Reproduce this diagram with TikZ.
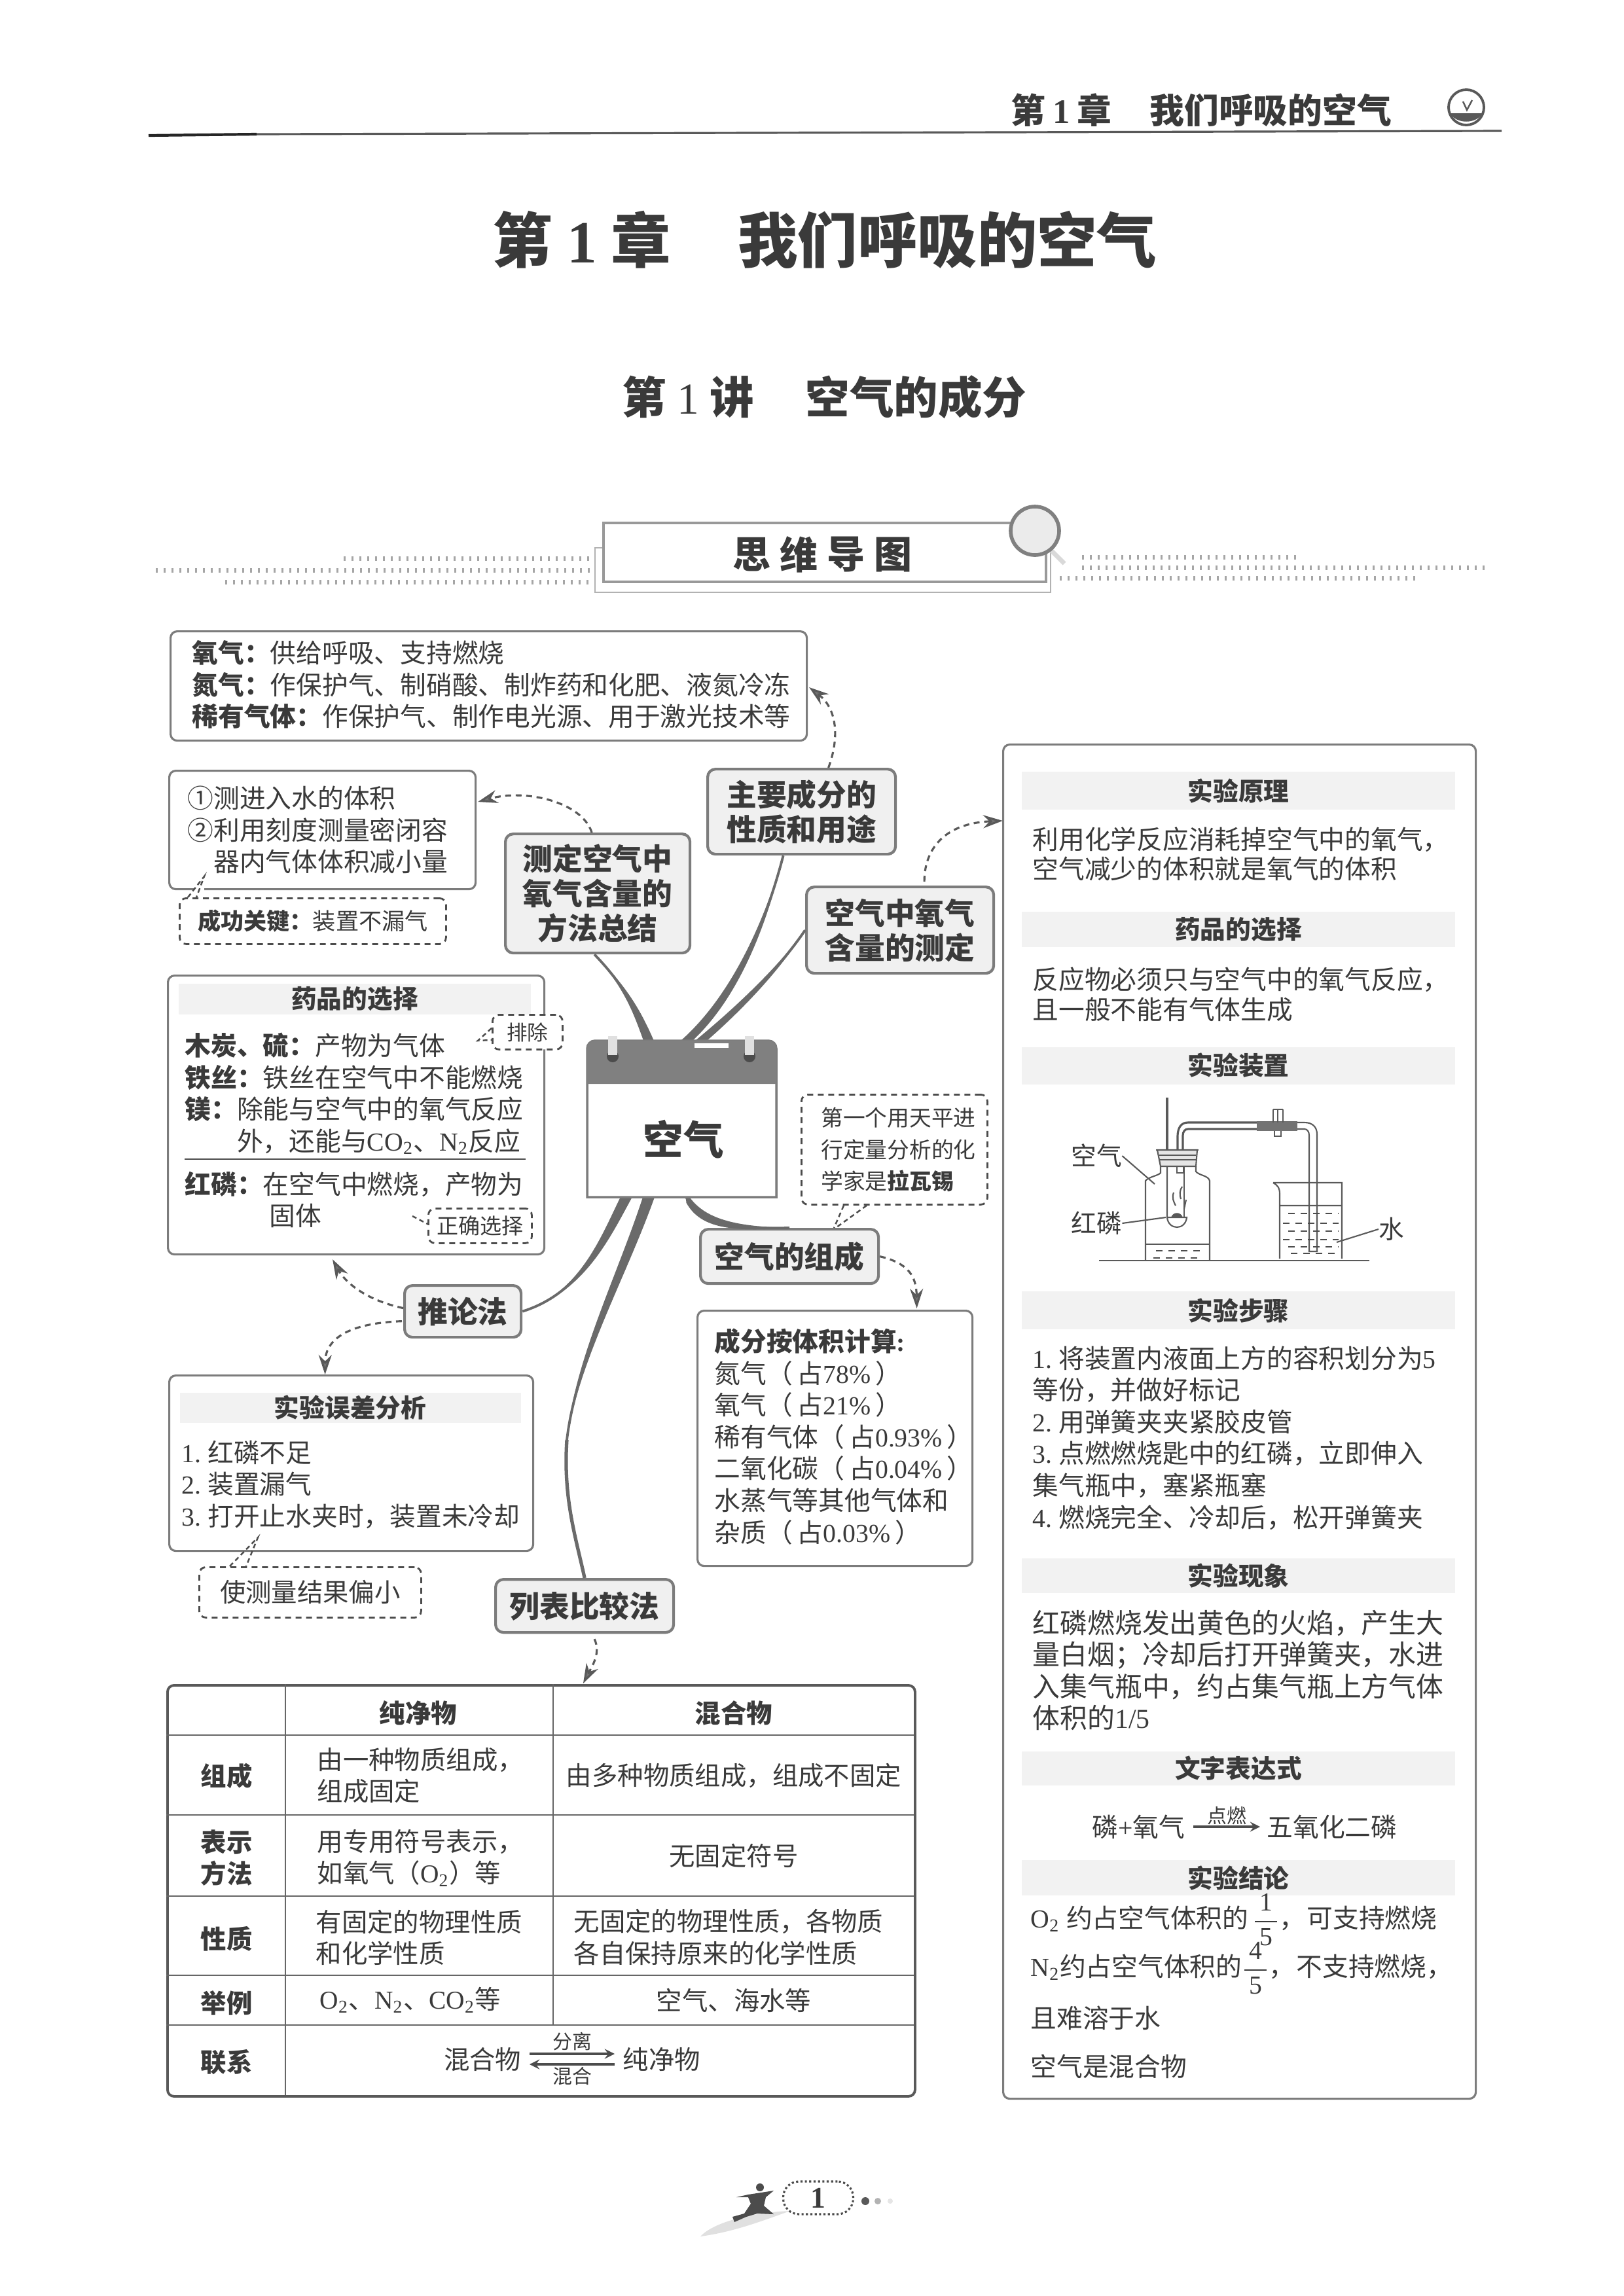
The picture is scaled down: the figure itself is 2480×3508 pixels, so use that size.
\documentclass[tikz,border=0pt]{standalone}
\usepackage{fontspec}
\usetikzlibrary{calc,arrows.meta}
\setmainfont{Noto Sans CJK SC}
\newfontfamily\latinfont{Liberation Serif}
\definecolor{inkgray}{HTML}{3A3A3A}
\definecolor{boxgray}{HTML}{7C7C7C}
\definecolor{branchgray}{HTML}{6A6A6A}
\definecolor{shadegray}{HTML}{F2F2F2}
\definecolor{topicfill}{HTML}{F0F0F0}
\newcommand{\lat}[1]{{\latinfont #1}}
\newcommand{\chem}[2]{{\latinfont #1\textsubscript{#2}}}
\newcommand{\fifths}[1]{$\displaystyle\frac{\mbox{\lat{\,#1\,}}}{\mbox{\lat{\,5\,}}}$}
\newcommand{\branch}[6]{%
  \draw[branchline] (#1) .. controls (#2) and (#3) .. (#4);
  \fill[branchgray] ($(#1)-(#5,#6)$) .. controls ($(#2)-0.8*(#5,#6)$) and ($(#3)-0.4*(#5,#6)$) .. (#4)
    .. controls ($(#3)+0.4*(#5,#6)$) and ($(#2)+0.8*(#5,#6)$) .. ($(#1)+(#5,#6)$) -- cycle;
}
\tikzset{
  bodytext/.style={font=\fontsize{11.3}{13.8}\selectfont,text=inkgray,align=left,inner sep=0pt,anchor=west},
  celltext/.style={font=\fontsize{11.2}{13.7}\selectfont,text=inkgray,align=center,inner sep=0pt},
  rowlabel/.style={font=\bfseries\fontsize{11.2}{13.7}\selectfont,text=inkgray,align=center,inner sep=0pt},
  sheetbox/.style 2 args={draw=boxgray,line width=0.9pt,rounded corners=0.1cm,fill=white,anchor=north west,inner sep=0pt,minimum width=#1*0.01cm,minimum height=#2*0.01cm},
  notebox/.style 2 args={draw=black!70,line width=0.8pt,dash pattern=on 0.09cm off 0.07cm,rounded corners=0.1cm,fill=white,anchor=north west,inner sep=0pt,text=inkgray,align=left,minimum width=#1*0.01cm,minimum height=#2*0.01cm},
  topicbox/.style 2 args={draw=boxgray,line width=1.2pt,rounded corners=0.12cm,fill=topicfill,anchor=north west,inner sep=0pt,align=center,text=inkgray,font=\bfseries\fontsize{13}{15}\selectfont,minimum width=#1*0.01cm,minimum height=#2*0.01cm},
  headshade/.style={fill=shadegray,inner sep=0pt,text=inkgray,font=\bfseries\fontsize{11}{13}\selectfont},
  dasharrow/.style={draw=black!65,line width=0.9pt,dash pattern=on 0.09cm off 0.07cm,-{Stealth[length=0.3cm,width=0.2cm,fill=black!55]}},
  notedash/.style={draw=black!70,line width=0.7pt,dash pattern=on 0.07cm off 0.05cm},
  branchline/.style={draw=branchgray,line width=1.1pt},
  glassline/.style={draw=black!65,line width=0.6pt},
  waterdash/.style={draw=black!70,line width=0.8pt,dash pattern=on 0.1cm off 0.09cm},
  tableline/.style={draw=black!60,line width=0.8pt},
}
\begin{document}
\begin{tikzpicture}[x=0.01cm,y=-0.01cm]
  \useasboundingbox (0,0) rectangle (2480,3508);
  % running head
  \node[font=\bfseries\fontsize{15}{16}\selectfont,text=inkgray,inner sep=0pt,anchor=west] (runhead) at (1544,168)
    {第\hspace{0.11cm}\lat{1}\hspace{0.11cm}章\hspace{0.58cm}我们呼吸的空气};
  \draw[black!65,line width=0.9pt] (392,205) -- (2294,200);
  \draw[black!85,line width=1.2pt] (227,207) -- (392,205);
  \draw[black!65,line width=1.1pt,fill=white] (2240,164) circle (0.27cm);
  \fill[black!65] (2215,173) .. controls (2225,190) and (2255,190) .. (2265,173) -- cycle;
  \draw[black!65,line width=0.7pt] (2235,155) -- (2241,168) -- (2249,153);
  % titles
  \node[font=\bfseries\fontsize{26}{28}\selectfont,text=inkgray,inner sep=0pt,anchor=west] (chaptitle) at (752,366)
    {第\hspace{0.22cm}\lat{1}\hspace{0.22cm}章\hspace{1.02cm}我们呼吸的空气};
  \node[font=\fontsize{19.2}{22}\selectfont\bfseries,text=inkgray,inner sep=0pt,anchor=west] (lessontitle) at (950,607)
    {第\hspace{0.16cm}\lat{\mdseries 1}\hspace{0.16cm}讲\hspace{0.79cm}空气的成分};
  % banner
  \foreach \dy/\dxa/\dxb in {853/525/903,871/238/903,889/344/903,851/1653/1989,867/1653/2277,883/1619/2170}
    \draw[black!35,line width=0.07cm,dash pattern=on 0.03cm off 0.09cm] (\dxa,\dy) -- (\dxb,\dy);
  \draw[black!30,line width=0.8pt,fill=white] (909,837) rectangle (1605,905);
  \draw[black!40,line width=1pt,fill=white] (922,799) rectangle (1598,889);
  \foreach \ch [count=\n] in {思,维,导,图}
    \node[font=\bfseries\fontsize{16.5}{18}\selectfont,text=inkgray,inner sep=0pt] (mind\n) at ({1148+72*(\n-1)},847) {\ch};
  \draw[black!15,line width=2pt] (1600,835) -- (1626,861);
  \draw[black!50,line width=1.6pt,fill=black!8] (1581,811) circle (0.37cm);
  % left column
  \node[sheetbox={972}{167}] (usebox) at (259,963) {};
  \node[bodytext] (usetext) at (293,1046) {\textbf{氧气：}供给呼吸、支持燃烧\\\textbf{氮气：}作保护气、制硝酸、制炸药和化肥、液氮冷冻\\\textbf{稀有气体：}作保护气、制作电光源、用于激光技术等};
  \node[sheetbox={468}{181}] (methbox) at (257,1176) {};
  \node[bodytext] (methtext) at (286,1268) {①测进入水的体积\\②利用刻度测量密闭容\\\hspace{1em}器内气体体积减小量};
  \node[notebox={407}{70},font=\fontsize{10}{12}\selectfont] (keynote) at (273,1371) {\textbf{成功关键：}装置不漏气};
  \draw[white,line width=2pt] (296,1357) -- (312,1357);
  \coordinate (keytip) at (312,1339);
  \draw[notedash] ($(keynote.north west)+(14,0)$) -- (keytip) -- ($(keynote.north west)+(27,0)$);
  \node[sheetbox={575}{426}] (drugbox) at (255,1489) {};
  \node[headshade,minimum width=538*0.01cm,minimum height=47*0.01cm] (drughead) at (542,1526) {药品的选择};
  \node[bodytext] (drugtexta) at (282,1671) {\textbf{木炭、硫：}产物为气体\\\textbf{铁丝：}铁丝在空气中不能燃烧\\\textbf{镁：}除能与空气中的氧气反应\\\hspace{2em}外，还能与\chem{CO}{2}、\chem{N}{2}反应};
  \draw[black!70,line width=0.7pt] (282,1771) -- (803,1771);
  \node[bodytext] (drugtextb) at (282,1833) {\textbf{红磷：}在空气中燃烧，产物为\\\hspace{3.25em}固体};
  \node[notebox={107}{53},font=\fontsize{9}{11}\selectfont,align=center] (noteout) at (751,1549) {排除};
  \coordinate (outtip) at (730,1590);
  \draw[notedash] ($(noteout.west)+(0,-6)$) -- (outtip) -- ($(noteout.west)+(0,12)$);
  \node[notebox={158}{53},font=\fontsize{9.4}{11}\selectfont,align=center] (noteok) at (653,1845) {正确选择};
  \coordinate (oktip) at (630,1858);
  \draw[notedash] (oktip) -- ($(noteok.west)+(0,-3)$);
  \node[sheetbox={556}{268}] (errbox) at (257,2100) {};
  \node[headshade,minimum width=521*0.01cm,minimum height=46*0.01cm] (errhead) at (535,2151) {实验误差分析};
  \node[bodytext] (errtext) at (277,2268) {\lat{1.\ }红磷不足\\\lat{2.\ }装置漏气\\\lat{3.\ }打开止水夹时，装置未冷却};
  \node[notebox={339}{77},font=\fontsize{11.2}{13}\selectfont,align=center] (notesmall) at (303,2393) {使测量结果偏小};
  \coordinate (smalltip) at (394,2349);
  \draw[notedash] ($(notesmall.north west)+(48,0)$) -- (smalltip) -- ($(notesmall.north west)+(73,0)$);
  % middle column
  \node[sheetbox={420}{390}] (compbox) at (1064,2001) {};
  \node[bodytext] (comptext) at (1091,2195) {\textbf{成分按体积计算\lat{:}}\\氮气（\hspace{0.07cm}占\lat{78\%}\hspace{0.07cm}）\\氧气（\hspace{0.07cm}占\lat{21\%}\hspace{0.07cm}）\\稀有气体（\hspace{0.07cm}占\lat{0.93\%}\hspace{0.07cm}）\\二氧化碳（\hspace{0.07cm}占\lat{0.04\%}\hspace{0.07cm}）\\水蒸气等其他气体和\\杂质（\hspace{0.07cm}占\lat{0.03\%}\hspace{0.07cm}）};
  \node[notebox={284}{168},font=\fontsize{9.6}{13.8}\selectfont] (notelav) at (1223,1671) {\hspace{0.12cm}第一个用天平进\\\hspace{0.12cm}行定量分析的化\\\hspace{0.12cm}学家是\textbf{拉瓦锡}};
  % topics
  \node[topicbox={282}{182}] (topicmeth) at (770,1272) {测定空气中\\氧气含量的\\方法总结};
  \node[topicbox={287}{130}] (topicuse) at (1079,1173) {主要成分的\\性质和用途};
  \node[topicbox={286}{132}] (topicmeas) at (1230,1353) {空气中氧气\\含量的测定};
  \node[topicbox={272}{83}] (topiccomp) at (1068,1876) {空气的组成};
  \node[topicbox={178}{79}] (topicinfer) at (616,1962) {推论法};
  \node[topicbox={272}{81}] (topictab) at (755,2411) {列表比较法};
  % branches
  \node[minimum width=289*0.01cm,minimum height=239*0.01cm,inner sep=0pt] (cal) at (1041.5,1709.5) {};
  \coordinate (rootmeth) at ($(cal.north)+(-50,2)$);
  \coordinate (rootuse) at ($(cal.north)+(6,2)$);
  \coordinate (rootmeas) at ($(cal.north)+(28,2)$);
  \coordinate (rootcomp) at ($(cal.south)+(6,-2)$);
  \coordinate (rootinfer) at ($(cal.south)+(-84,-2)$);
  \coordinate (roottab) at ($(cal.south)+(-50,-2)$);
  \coordinate (midtab) at (866,2200);
  \branch{rootmeth}{975,1550}{958,1510}{$(topicmeth.south)+(-5,0)$}{8}{0}
  \branch{rootuse}{1113,1533}{1164,1432}{$(topicuse.south)+(-28,0)$}{9}{0}
  \branch{rootmeas}{1130,1540}{1190,1480}{topicmeas.west}{9}{0}
  \branch{rootcomp}{1070,1870}{1120,1878}{topiccomp.north}{1}{10}
  \branch{rootinfer}{925,1890}{890,1975}{topicinfer.east}{9}{0}
  \branch{roottab}{950,1950}{880,2080}{midtab}{9}{0}
  \draw[branchline,line width=1.5pt] (midtab) .. controls (860,2290) and (880,2350) .. (topictab.north);
  % calendar
  \draw[boxgray,line width=1pt,fill=white] (897,1829) [rounded corners=0.12cm] -- (897,1590) -- (1186,1590) [sharp corners] -- (1186,1829) -- cycle;
  \fill[black!50] (897,1656) [rounded corners=0.12cm] -- (897,1590) -- (1186,1590) [sharp corners] -- (1186,1656) -- cycle;
  \foreach \rx in {936,1145} {
    \fill[black!70] (\rx,1614) circle (0.09cm);
    \fill[black!12] (\rx-7,1583) rectangle (\rx+7,1612);
  }
  \fill[white] (1061,1594) rectangle (1113,1601);
  \node[font=\bfseries\fontsize{17.5}{20}\selectfont,text=inkgray,inner sep=0pt] (calword) at (1044,1741) {空气};
  % table
  \node[draw=black!65,line width=1.1pt,rounded corners=0.1cm,inner sep=0pt,anchor=north west,minimum width=1142*0.01cm,minimum height=628*0.01cm] (tabbox) at (254,2573) {};
  \foreach \ty in {2651,2773,2897,3018,3094}
    \draw[tableline] (254,\ty) -- (1396,\ty);
  \draw[tableline] (436,2573) -- (436,3201);
  \draw[tableline] (845,2573) -- (845,3094);
  \foreach \lab/\ly [count=\n] in {组成/2713,{表示\\方法}/2839,性质/2962,举例/3060,联系/3151}
    \node[rowlabel] (rowlab\n) at (346,\ly) {\lab};
  \node[rowlabel] (colpure) at (639,2617) {纯净物};
  \node[rowlabel] (colmix) at (1121,2617) {混合物};
  \node[celltext,align=left,anchor=west] (purea) at (484,2713) {由一种物质组成，\\组成固定};
  \node[celltext] (mixa) at (1121,2713) {由多种物质组成，组成不固定};
  \node[celltext,align=left,anchor=west] (pureb) at (484,2839) {用专用符号表示，\\如氧气（\chem{O}{2}）等};
  \node[celltext] (mixb) at (1121,2835) {无固定符号};
  \node[celltext,align=left,anchor=west] (purec) at (482,2960) {有固定的物理性质\\和化学性质};
  \node[celltext,align=left,anchor=west] (mixc) at (876,2960) {无固定的物理性质，各物质\\各自保持原来的化学性质};
  \node[celltext,anchor=west] (pured) at (488,3056) {\chem{O}{2}、\chem{N}{2}、\chem{CO}{2}等};
  \node[celltext] (mixd) at (1121,3056) {空气、海水等};
  \node[celltext,anchor=east,inner xsep=0.12cm] (linkmix) at (809,3146) {混合物};
  \node[celltext,anchor=west,inner xsep=0.12cm] (linkpure) at (939,3146) {纯净物};
  \draw[black!70,line width=0.9pt,-stealth] ($(linkmix.east)+(0,-8)$) -- node[above,font=\fontsize{8.5}{10}\selectfont,text=inkgray,inner sep=0.03cm] (linksplit) {分离} ($(linkpure.west)+(0,-8)$);
  \draw[black!70,line width=0.9pt,stealth-] ($(linkmix.east)+(0,8)$) -- node[below,font=\fontsize{8.5}{10}\selectfont,text=inkgray,inner sep=0.03cm] (linkmerge) {混合} ($(linkpure.west)+(0,8)$);
  % right panel
  \node[sheetbox={722}{2069}] (rightbox) at (1531,1136) {};
  \foreach \hd/\hy/\hh [count=\n] in {实验原理/1208/58,药品的选择/1420/54,实验装置/1628/57,实验步骤/2002/58,实验现象/2407/53,文字表达式/2702/52,实验结论/2869/54}
    \node[headshade,minimum width=662*0.01cm,minimum height=\hh*0.01cm] (panelhead\n) at (1892,\hy) {\hd};
  \node[bodytext,font=\fontsize{11.3}{12.9}\selectfont] (ruletext) at (1577,1305) {利用化学反应消耗掉空气中的氧气，\\空气减少的体积就是氧气的体积};
  \node[bodytext,font=\fontsize{11.3}{13}\selectfont] (choosetext) at (1577,1519) {反应物必须只与空气中的氧气反应，\\且一般不能有气体生成};
  \node[bodytext] (steptext) at (1577,2197) {\lat{1.\ }将装置内液面上方的容积划分为\lat{5}\\等份，并做好标记\\\lat{2.\ }用弹簧夹夹紧胶皮管\\\lat{3.\ }点燃燃烧匙中的红磷，立即伸入\\集气瓶中，塞紧瓶塞\\\lat{4.\ }燃烧完全、冷却后，松开弹簧夹};
  \node[bodytext,font=\fontsize{11.9}{13.8}\selectfont] (seentext) at (1577,2552) {红磷燃烧发出黄色的火焰，产生大\\量白烟；冷却后打开弹簧夹，水进\\入集气瓶中，约占集气瓶上方气体\\体积的\lat{1/5}};
  \node[bodytext,anchor=east,inner xsep=0.12cm] (eqleft) at (1823,2791) {磷\lat{+}氧气};
  \node[bodytext,inner xsep=0.1cm] (eqright) at (1925,2791) {五氧化二磷};
  \draw[black!70,line width=0.9pt,-stealth] (eqleft) -- node[above,font=\fontsize{8.5}{10}\selectfont,text=inkgray,inner sep=0.02cm] (eqfire) {点燃} (eqright);
  \node[bodytext] (endo) at (1574,2933) {\chem{O}{2}\hspace{0.1cm}约占空气体积的\hspace{0.06cm}\fifths{1}，\hspace{0.02cm}可支持燃烧};
  \node[bodytext] (endn) at (1574,3007) {\chem{N}{2}约占空气体积的\fifths{4}，\hspace{0.02cm}不支持燃烧，};
  \node[bodytext] (endw) at (1574,3083) {且难溶于水};
  \node[bodytext] (endm) at (1574,3157) {空气是混合物};
  % dashed arrows
  \draw[dasharrow] ($(topicuse.north)+(41,0)$) .. controls (1285,1120) and (1275,1080) .. ($(usebox.east)+(2,2)$);
  \draw[dasharrow] ($(topicmeth.north)+(-9,0)$) .. controls (889,1225) and (803,1205) .. ($(methbox.east)+(2,-43)$);
  \draw[dasharrow] ($(topicmeas.north)+(37,-6)$) .. controls (1412,1300) and (1440,1258) .. ($(rightbox.north west)+(1,118)$);
  \draw[dasharrow] (topiccomp.east) .. controls (1388,1930) and (1400,1950) .. ($(compbox.north)+(125,-2)$);
  \draw[dasharrow] ($(topicinfer.west)+(0,-5)$) .. controls (553,1985) and (525,1955) .. ($(drugbox.south)+(-36,6)$);
  \draw[dasharrow] ($(topicinfer.west)+(-2,15)$) .. controls (544,2021) and (497,2040) .. ($(errbox.north)+(-40,0)$);
  \draw[dasharrow] ($(topictab.south)+(15,8)$) .. controls (918,2525) and (905,2545) .. ($(tabbox.north)+(64,-1)$);
  \draw[notedash] ($(notelav.south west)+(66,0)$) -- ($(topiccomp.north)+(68,0)$);
  \draw[notedash] ($(notelav.south west)+(101,0)$) -- ($(topiccomp.north)+(72,-1)$);
  % apparatus
  \draw[glassline,line width=0.9pt] (1783,1677) -- (1783,1757);
  \draw[glassline,line width=0.9pt] (1799,1757) -- (1799,1737) .. controls (1799,1722) and (1805,1715) .. (1815,1715) -- (1920,1715);
  \draw[glassline,line width=0.9pt] (1807,1757) -- (1807,1735) .. controls (1807,1729) and (1810,1725) .. (1815,1725) -- (1920,1725);
  \fill[black!55] (1920,1713) rectangle (1982,1728);
  \draw[glassline] (1945,1695) -- (1945,1715) (1952,1695) -- (1952,1715) (1960,1695) -- (1960,1715) (1945,1695) -- (1960,1695);
  \draw[glassline] (1947,1728) -- (1947,1736) -- (1957,1736) -- (1957,1728);
  \draw[glassline] (1982,1715) -- (1993,1715) .. controls (2005,1715) and (2012,1722) .. (2012,1733) -- (2012,1912) -- (2000,1912) -- (2000,1735) .. controls (2000,1729) and (1997,1725) .. (1993,1725) -- (1982,1725);
  \draw[glassline,fill=black!10] (1768,1757) -- (1829,1757) -- (1827,1782) -- (1773,1782) -- cycle;
  \draw[glassline] (1766,1757) -- (1831,1757) (1771,1765) -- (1827,1765) (1772,1772) -- (1827,1772);
  \draw[glassline] (1773,1782) -- (1773,1792) .. controls (1770,1796) and (1755,1798) .. (1750,1804) -- (1750,1925);
  \draw[glassline] (1827,1782) -- (1827,1790) .. controls (1832,1796) and (1846,1796) .. (1848,1804) -- (1848,1925);
  \draw[glassline] (1798,1782) -- (1798,1792) -- (1808,1792) -- (1808,1782);
  \draw[glassline] (1750,1901) -- (1848,1901);
  \draw[glassline] (1783,1782) -- (1783,1860) .. controls (1785,1880) and (1811,1880) .. (1813,1860) -- (1783,1860);
  \draw[glassline] (1809,1782) -- (1809,1860);
  \fill[black!65] (1789,1860) .. controls (1792,1851) and (1804,1851) .. (1807,1860) -- cycle;
  \draw[glassline] (1793,1822) .. controls (1790,1830) and (1793,1836) .. (1796,1842);
  \draw[glassline] (1806,1813) .. controls (1802,1818) and (1802,1826) .. (1804,1832);
  \draw[glassline] (1812,1833) -- (1809,1847);
  \foreach \wy/\wa/\wb in {1911/1766/1840,1922/1762/1830,1854/1968/2045,1869/1960/2045,1881/1968/2045,1894/1960/2045,1905/1968/2045,1915/1972/2045}
    \draw[waterdash] (\wa,\wy) -- (\wb,\wy);
  \draw[glassline] (1945,1807) -- (2050,1807) -- (2050,1923) (1945,1807) .. controls (1953,1812) and (1955,1815) .. (1955,1825) -- (1955,1923) (1955,1842) -- (2050,1842);
  \draw[black!65,line width=0.8pt] (1679,1926) -- (2092,1926);
  \node[bodytext,font=\fontsize{11}{13}\selectfont,anchor=center] (labair) at (1675,1766) {空气};
  \node[bodytext,font=\fontsize{11}{13}\selectfont,anchor=center] (labred) at (1675,1869) {红磷};
  \node[bodytext,font=\fontsize{11}{13}\selectfont,anchor=center] (labwater) at (2126,1878) {水};
  \draw[glassline] (labair.east) -- (1764,1809);
  \draw[glassline] (labred.east) -- (1781,1860);
  \draw[glassline] (labwater.west) -- (2042,1898);
  % folio
  \fill[black!12] (1070,3417) .. controls (1090,3395) and (1150,3380) .. (1207,3378) .. controls (1160,3395) and (1120,3410) .. (1070,3417) -- cycle;
  \fill[black!70] (1161,3342) circle (0.06cm);
  \fill[black!70] (1125,3357) -- (1143,3353) -- (1182,3347) -- (1170,3357) -- (1167,3370) -- (1182,3383) -- (1157,3382) -- (1140,3387) -- (1122,3395) -- (1119,3387) -- (1137,3382) -- (1147,3367) -- (1143,3357) -- cycle;
  \node[draw=black!70,line width=0.9pt,densely dotted,rounded corners=0.24cm,inner sep=0pt,minimum width=107*0.01cm,minimum height=50*0.01cm,font=\bfseries\latinfont\fontsize{13}{15}\selectfont,text=inkgray,fill=white] (pagenum) at (1250,3358) {1};
  \fill[black!65] (1322,3363) circle (0.06cm);
  \fill[black!30] (1341,3363) circle (0.05cm);
  \fill[black!10] (1360,3363) circle (0.04cm);
\end{tikzpicture}
\end{document}
